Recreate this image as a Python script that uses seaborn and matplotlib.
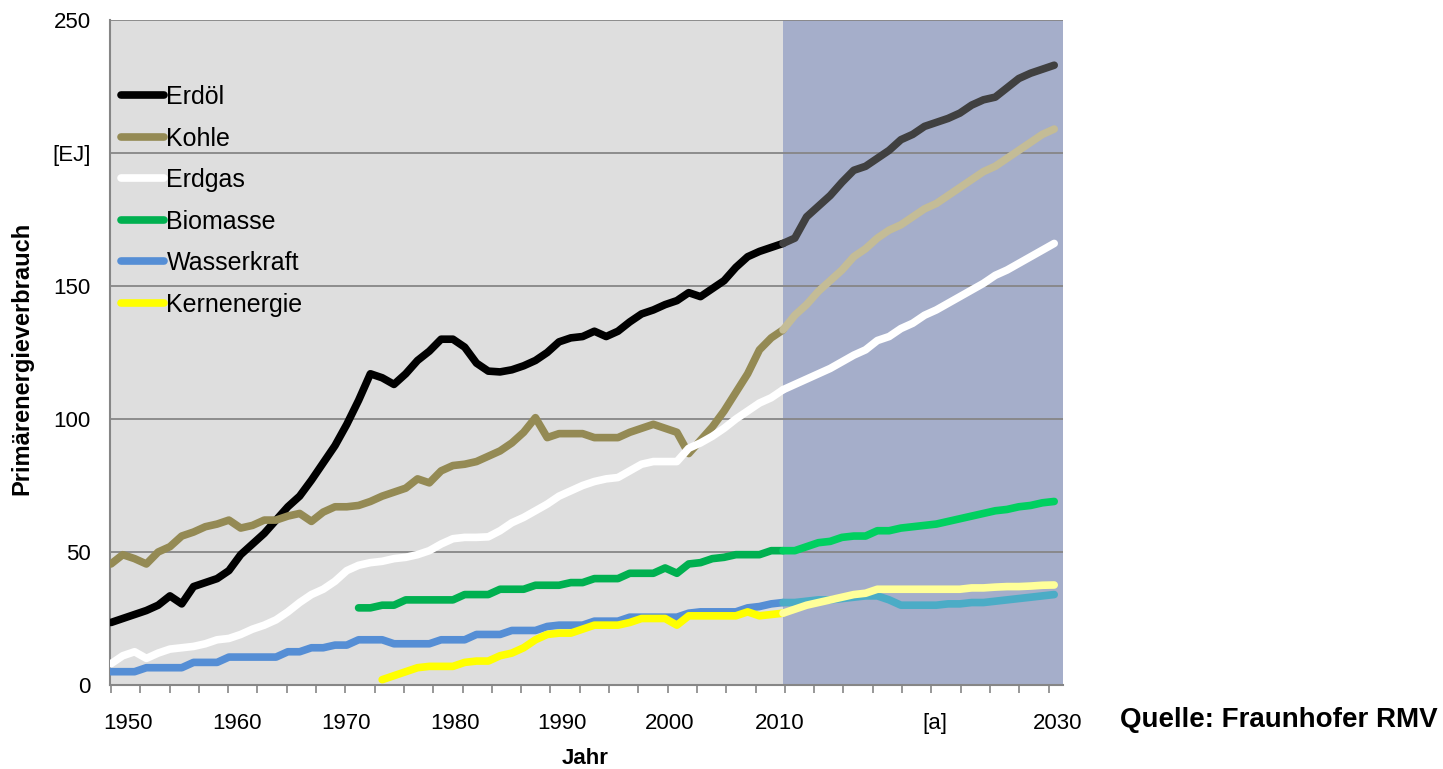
# Weltweiter Primärenergieverbrauch nach Energieträgern, 1950-2030
import numpy as np
import pandas as pd
import matplotlib
matplotlib.use("Agg")
import matplotlib.pyplot as plt
import seaborn as sns

years = list(range(1950, 2031))
split_year = 2007

erdoel = [23.5, 25, 26.5, 28, 30, 33.5, 30.5, 37, 38.5, 40,
          43, 49, 53, 57, 62, 67, 71, 77, 83.5, 90,
          98, 107, 117, 115.5, 113, 117, 122, 125.5, 130, 130,
          127, 121, 118, 117.7, 118.5, 120, 122, 125, 129, 130.5,
          131, 133, 131, 133, 136.5, 139.5, 141, 143, 144.5, 147.5,
          146, 149, 152, 157, 161, 163, 164.5, 166, 168, 176,
          180, 184, 189, 193.5, 195, 198, 201, 205, 207, 210,
          211.5, 213, 215, 218, 220, 221, 224.5, 228, 230, 231.5, 233]
kohle = [45.5, 49, 47.5, 45.5, 50, 52, 56, 57.5, 59.5, 60.5,
         62, 59, 60, 62, 62, 63.5, 64.5, 61.5, 65, 67,
         67, 67.5, 69, 71, 72.5, 74, 77.5, 76, 80.5, 82.5,
         83, 84, 86, 88, 91, 95, 100.5, 93, 94.5, 94.5,
         94.5, 93, 93, 93, 95, 96.5, 98, 96.5, 95, 87,
         92, 97, 103, 110, 117, 126, 130.5, 133.5, 139, 143,
         148, 152, 156, 161, 164, 168, 171, 173, 176, 179,
         181, 184, 187, 190, 193, 195, 198, 201, 204, 207, 209]
erdgas = [8, 11, 12.5, 10, 12, 13.5, 14, 14.5, 15.5, 17,
          17.5, 19, 21, 22.5, 24.5, 27.5, 31, 34, 36, 39,
          43, 45, 46, 46.5, 47.5, 48, 49, 50.5, 53, 55,
          55.5, 55.5, 55.7, 58, 61, 63, 65.5, 68, 71, 73,
          75, 76.5, 77.5, 78, 80.5, 83, 84, 84, 84, 89,
          91, 93.5, 96.5, 100, 103, 106, 108, 111, 113, 115,
          117, 119, 121.5, 124, 126, 129.5, 131, 134, 136, 139,
          141, 143.5, 146, 148.5, 151, 154, 156, 158.5, 161, 163.5, 166]
# Biomasse ab 1971, Kernenergie ab 1973
biomasse = [np.nan] * 21 + [
            29, 29, 30, 30, 32, 32, 32, 32, 32,
            34, 34, 34, 36, 36, 36, 37.5, 37.5, 37.5, 38.5,
            38.5, 40, 40, 40, 42, 42, 42, 44, 42, 45.5,
            46, 47.5, 48, 49, 49, 49, 50.5, 50.5, 50.5, 52,
            53.5, 54, 55.5, 56, 56, 58, 58, 59, 59.5, 60,
            60.5, 61.5, 62.5, 63.5, 64.5, 65.5, 66, 67, 67.5, 68.5, 69]
wasserkraft = [5, 5, 5, 6.5, 6.5, 6.5, 6.5, 8.5, 8.5, 8.5,
               10.5, 10.5, 10.5, 10.5, 10.5, 12.5, 12.5, 14, 14, 15,
               15, 17, 17, 17, 15.5, 15.5, 15.5, 15.5, 17, 17,
               17, 19, 19, 19, 20.5, 20.5, 20.5, 22, 22.5, 22.5,
               22.5, 24, 24, 24, 25.5, 25.5, 25.5, 25.5, 25.5, 27,
               27.5, 27.5, 27.5, 27.5, 29, 29.5, 30.5, 31, 31, 31.5,
               32, 32, 32.5, 33, 33.5, 33.5, 32, 30, 30, 30,
               30, 30.5, 30.5, 31, 31, 31.5, 32, 32.5, 33, 33.5, 34]
kernenergie = [np.nan] * 23 + [
               2, 3.5, 5, 6.5, 7, 7, 7,
               8.5, 9, 9, 11, 12, 14, 17, 19, 19.5, 19.5,
               21, 22.5, 22.5, 22.5, 23.5, 25, 25, 25, 22.5, 26,
               26, 26, 26, 26, 27.5, 26, 26.5, 27, 28.5, 30,
               31, 32, 33, 34, 34.5, 36, 36, 36, 36, 36,
               36, 36, 36, 36.5, 36.5, 36.8, 37, 37, 37.2, 37.5, 37.6]

series = ["Erdöl", "Kohle", "Erdgas", "Biomasse", "Wasserkraft", "Kernenergie"]
values = [erdoel, kohle, erdgas, biomasse, wasserkraft, kernenergie]
hist_colors = ["#000000", "#948a54", "#ffffff", "#00b050", "#558ed5", "#ffff00"]
prog_colors = ["#404040", "#c4bc96", "#ffffff", "#00d060", "#4bacc6", "#ffff99"]

df = pd.DataFrame({"Jahr": years})
for name, vals in zip(series, values):
    df[name] = vals

sns.set_style("white")
plt.rcParams["font.family"] = ["Liberation Sans", "DejaVu Sans"]
plt.rcParams["text.color"] = "black"
plt.rcParams["xtick.color"] = "black"
plt.rcParams["ytick.color"] = "black"

fig = plt.figure(figsize=(14.43, 7.69), dpi=100)
ax = fig.add_axes([110 / 1443, 1 - 685 / 769, 953 / 1443, 665 / 769])

x0 = 1950 - 1 / 11.79
x1 = 1950 + (1063 - 111) / 11.79
ax.axvspan(x0, split_year, color="#dedede", lw=0, zorder=0)
ax.axvspan(split_year, x1, color="#a5aeca", lw=0, zorder=0)

for y in [50, 100, 150, 200, 250]:
    ax.axhline(y, color="#868686", lw=1.3, zorder=1)

hist = df[df["Jahr"] <= split_year]
prog = df[df["Jahr"] >= split_year]
for name, hc, pc in zip(series, hist_colors, prog_colors):
    sns.lineplot(data=hist, x="Jahr", y=name, color=hc, lw=5.5, ax=ax,
                 label=name, solid_capstyle="round", solid_joinstyle="round",
                 zorder=3)
    sns.lineplot(data=prog, x="Jahr", y=name, color=pc, lw=5.5, ax=ax,
                 solid_capstyle="round", solid_joinstyle="round", zorder=3)

ax.set_xlim(x0, x1)
ax.set_ylim(0, 250)

# Achsenbeschriftung wie im Original (Excel-Kategorienachse)
xlabel_pos = [1951.44, 1960.69, 1969.93, 1979.18, 1988.25, 1997.41, 2006.74, 2019.89, 2030.32]
xlabel_txt = ["1950", "1960", "1970", "1980", "1990", "2000", "2010", "[a]", "2030"]
ax.set_xticks(xlabel_pos)
ax.set_xticklabels(xlabel_txt, fontsize=16)
ax.set_xticks(np.arange(1950, 2031, 2.485), minor=True)
ax.tick_params(axis="x", which="major", length=0, pad=20)
ax.tick_params(axis="x", which="minor", length=6, width=1.2, color="#868686",
               direction="out", bottom=True)

ax.set_yticks([0, 50, 100, 150, 200, 250])
ax.set_yticklabels(["0", "50", "100", "150", "[EJ]", "250"], fontsize=16)
ax.tick_params(axis="y", length=0, pad=14)

for side in ["top", "right"]:
    ax.spines[side].set_visible(False)
for side in ["left", "bottom"]:
    ax.spines[side].set_color("#868686")
    ax.spines[side].set_linewidth(1.5)

ax.set_xlabel("")
ax.set_ylabel("")

leg = ax.legend(loc="upper left", bbox_to_anchor=(0.012, 0.902), frameon=False,
                fontsize=18, handlelength=1.7, handletextpad=0.1,
                labelspacing=0.7, borderpad=0, borderaxespad=0)
for line in leg.get_lines():
    line.set_linewidth(5.5)
for t in leg.get_texts():
    t.set_color("black")

fig.text(22 / 1443, 1 - 358 / 769, "Primärenergieverbrauch", rotation=90,
         ha="center", va="center", fontsize=17, fontweight="bold")
fig.text(585 / 1443, 1 - 758 / 769, "Jahr", ha="center", va="center",
         fontsize=16, fontweight="bold")
fig.text(1120 / 1443, 1 - 720 / 769, "Quelle: Fraunhofer RMV", ha="left",
         va="center", fontsize=20, fontweight="bold")

fig.savefig("out.png", dpi=100)
